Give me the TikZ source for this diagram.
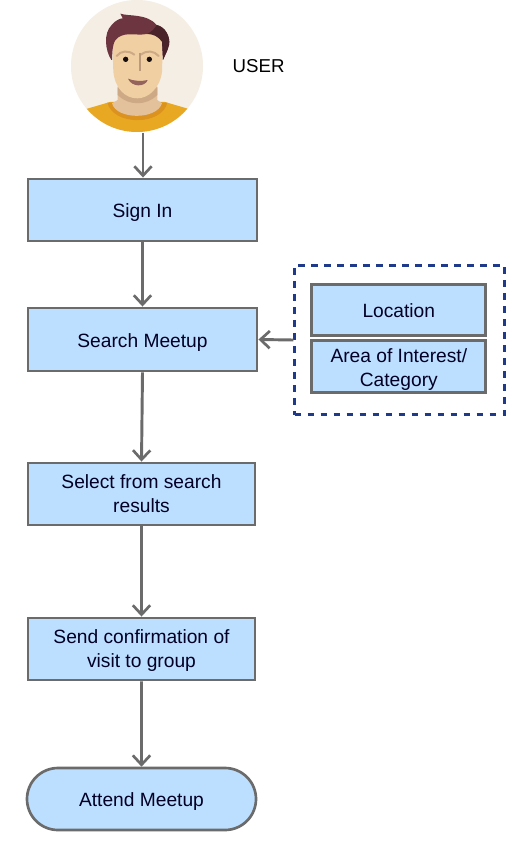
\documentclass[tikz,border=0pt]{standalone}
\usepackage{fontspec}
\setmainfont{Liberation Sans}
\usetikzlibrary{arrows.meta,shapes.misc}
\definecolor{boxfill}{HTML}{BDDFFF}
\definecolor{boxline}{HTML}{6B6B6B}
\definecolor{dashblue}{HTML}{1F3A8A}
\definecolor{skin}{HTML}{F0CFA2}
\definecolor{neck}{HTML}{E3C19B}
\definecolor{neckdark}{HTML}{CDA985}
\definecolor{hair}{HTML}{6C3540}
\definecolor{hairdark}{HTML}{4A2229}
\definecolor{shirt}{HTML}{E9A821}
\definecolor{collar}{HTML}{DB921F}
\definecolor{bgcirc}{HTML}{F5EEE4}
\newcommand{\oneline}[1]{\raisebox{-5.7pt}[0pt][0pt]{#1}}
\newcommand{\twolines}[3]{\raisebox{#1}[0pt][0pt]{\begin{tabular}{@{}c@{}}#2\\#3\end{tabular}}}
\tikzset{
  flowbox/.style={draw=boxline,line width=2.2pt,fill=boxfill,inner sep=0pt,align=center,text=black!85!blue,font=\fontsize{14.4}{18}\selectfont},
  flowline/.style={draw=boxline,line width=2.2pt,-{Straight Barb[length=7pt,width=13pt,line width=2pt]}},
}
\begin{document}
\begin{tikzpicture}[x=0.75pt,y=-0.75pt]
\useasboundingbox (0,0) rectangle (515,855);
\fill[white] (0,0) rectangle (515,855);
% avatar
\node[circle,fill=bgcirc,minimum size=99pt,inner sep=0pt] (avatar) at (137,66) {};
\begin{scope}
\clip (137,66) circle (66);
\begin{scope}[shift={(50,0)},x=0.25pt,y=-0.25pt]
\fill[shirt] (105,328) -- (180,306) -- (345,306) -- (420,328) -- (420,420) -- (105,420) -- cycle;
\fill[collar] (172,308) .. controls (190,378) and (335,378) .. (352,308) -- cycle;
\fill[neck] (186,310) .. controls (200,360) and (320,360) .. (336,310) -- (322,300) -- (322,260) -- (203,260) -- (203,300) -- cycle;
\fill[neckdark] (203,262) -- (322,262) -- (322,285) .. controls (290,318) and (235,318) .. (203,285) -- cycle;
\fill[skin] (187,130) .. controls (187,105) and (210,95) .. (240,95) -- (300,85) .. controls (325,95) and (338,115) .. (338,150) -- (336,215) .. controls (330,265) and (295,295) .. (262,295) .. controls (225,295) and (195,265) .. (190,215) -- cycle;
\fill[hair] (184,180) .. controls (165,150) and (160,100) .. (185,75) .. controls (195,62) and (210,55) .. (218,55) -- (211,41) .. controls (240,50) and (290,40) .. (320,75) .. controls (345,80) and (362,110) .. (357,135) .. controls (352,155) and (345,165) .. (339,180) -- (336,125) .. controls (325,105) and (305,100) .. (290,102) .. controls (260,108) and (230,95) .. (205,112) .. controls (190,122) and (187,140) .. (186,180) -- cycle;
\fill[hairdark] (292,102) .. controls (305,95) and (315,85) .. (320,75) .. controls (345,80) and (362,110) .. (357,135) .. controls (352,155) and (345,165) .. (339,180) -- (336,125) .. controls (325,110) and (310,102) .. (292,102) -- cycle;
\draw[neckdark,line width=1.5pt,line cap=round] (200,168) .. controls (212,152) and (235,150) .. (253,164);
\draw[neckdark,line width=1.5pt,line cap=round] (273,164) .. controls (290,150) and (312,152) .. (326,168);
\fill[black!80!hair] (227,178) circle (8);
\fill[black!80!hair] (298,178) circle (8);
\draw[neckdark!85!hair,line width=1.9pt] (270,160) -- (270,212);
\fill[hair!60!neckdark] (234,236) .. controls (250,243) and (275,245) .. (293,240) .. controls (285,262) and (245,262) .. (234,236) -- cycle;
\end{scope}
\end{scope}
\coordinate (avatarout) at (143,133);
\node[anchor=west,font=\fontsize{14}{18}\selectfont,text=black] (user) at (228,66) {USER};
% boxes
\node[flowbox,minimum width=171.75pt,minimum height=46.5pt] (signin) at (142.5,210) {\oneline{Sign In}};
\node[flowbox,minimum width=171.75pt,minimum height=47.25pt] (search) at (142.5,339.5) {\oneline{Search Meetup}};
\node[flowbox,minimum width=170.25pt,minimum height=46.5pt] (select) at (141.5,494) {\twolines{-5.2pt}{Select from search}{results}};
\node[flowbox,minimum width=170.25pt,minimum height=46.5pt] (send) at (141.5,649) {\twolines{-5.2pt}{Send confirmation of}{visit to group}};
\node[flowbox,rounded rectangle,line width=2pt,minimum width=171.75pt,minimum height=46.5pt] (attend) at (141.5,799) {\oneline{Attend Meetup}};
\node[flowbox,minimum width=130.3pt,minimum height=38.6pt] (location) at (398.8,310.2) {\oneline{Location}};
\node[flowbox,minimum width=130.3pt,minimum height=39pt] (area) at (398.8,366.7) {\twolines{-6pt}{Area of Interest/}{Category}};
\node[draw=dashblue,line width=2pt,dash pattern=on 5pt off 4.75pt,minimum width=157.5pt,minimum height=111.8pt,inner sep=0pt] (group) at (399.7,340) {};
% connectors
\draw[flowline] (avatarout) -- (avatarout |- signin.north);
\draw[flowline] (signin) -- (search);
\draw[flowline] (search.south) -- (select.north);
\draw[flowline] (select) -- (send);
\draw[flowline] (send) -- (attend);
\draw[flowline] (group.west) -- (search.east);
\end{tikzpicture}
\end{document}
